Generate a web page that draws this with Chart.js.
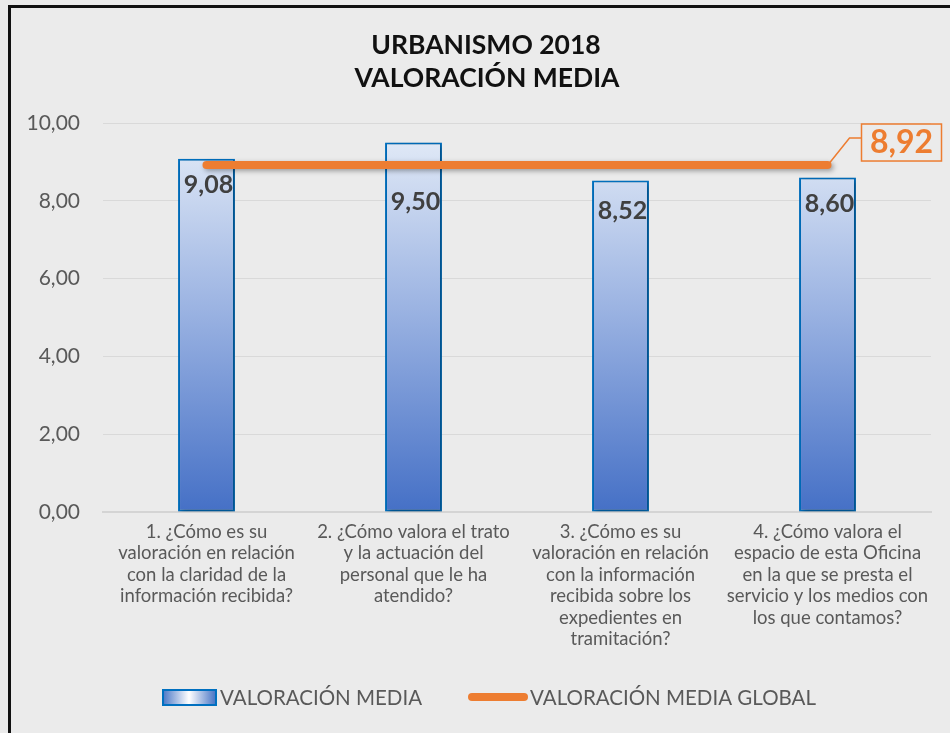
<!DOCTYPE html>
<html>
<head>
<meta charset="utf-8">
<script src="https://cdn.jsdelivr.net/npm/chart.js@4"></script>
<style>
  html, body { margin: 0; padding: 0; background: #ebebeb; }
  #wrap { position: relative; width: 950px; height: 733px; }
  #frame { position: absolute; left: 8px; top: 5px; right: -10px; bottom: -10px; border: 3px solid #111; pointer-events: none; }
</style>
</head>
<body>
<div id="wrap">
  <canvas id="chart" width="950" height="733"></canvas>
  <div id="frame"></div>
</div>
<script>
const categories = [
    ['1. ¿Cómo es su', 'valoración en relación', 'con la claridad de la', 'información recibida?'],
    ['2. ¿Cómo valora el trato', 'y la actuación del', 'personal que le ha', 'atendido?'],
    ['3. ¿Cómo es su', 'valoración en relación', 'con la información', 'recibida sobre los', 'expedientes en', 'tramitación?'],
    ['4. ¿Cómo valora el', 'espacio de esta Oficina', 'en la que se presta el', 'servicio y los medios con', 'los que contamos?']
];
const valoracionMedia = [9.08, 9.50, 8.52, 8.60];
const mediaGlobal = [8.92, 8.92, 8.92, 8.92];
const yTicks = [0, 2, 4, 6, 8, 10];

const titleLines = ['URBANISMO 2018', 'VALORACIÓN MEDIA'];
const seriesNames = ['VALORACIÓN MEDIA', 'VALORACIÓN MEDIA GLOBAL'];

// how far below the bar top each value label sits (Excel moved some to dodge the line)
const labelDrop = [26, 59, 30, 26];

const fmt = v => v.toFixed(2).replace('.', ',');

const ctx = document.getElementById('chart').getContext('2d');

function barGradient(context) {
    const area = context.chart.chartArea;
    if (!area) return '#4472c4';
    const g = context.chart.ctx.createLinearGradient(0, area.top + 20, 0, area.bottom);
    g.addColorStop(0, '#dfe8f6');
    g.addColorStop(0.45, '#9bb3e2');
    g.addColorStop(1, '#4570c6');
    return g;
}

// shadows on the bars and the line
const shadowPlugin = {
    id: 'shadow',
    beforeDatasetDraw(chart) {
        const c = chart.ctx;
        c.save();
        c.shadowColor = 'rgba(0,0,0,0.35)';
        c.shadowBlur = 5;
        c.shadowOffsetX = 2;
        c.shadowOffsetY = 2;
    },
    afterDatasetDraw(chart) {
        chart.ctx.restore();
    }
};

const decorPlugin = {
    id: 'decor',
    afterDraw(chart) {
        const c = chart.ctx;
        c.save();

        // title
        c.fillStyle = '#111';
        c.font = 'bold 26.5px Lato';
        c.textAlign = 'center';
        c.textBaseline = 'middle';
        c.fillText(titleLines[0], 486, 45);
        c.fillText(titleLines[1], 487, 78);

        // bar value labels
        const bars = chart.getDatasetMeta(0).data;
        c.fillStyle = '#404040';
        c.font = 'bold 25px Lato';
        bars.forEach((b, i) => {
            c.fillText(fmt(valoracionMedia[i]), b.x + 2, b.y + labelDrop[i]);
        });

        // global average label with leader line
        const pts = chart.getDatasetMeta(1).data;
        const last = pts[pts.length - 1];
        c.strokeStyle = '#ed7d31';
        c.lineWidth = 1.5;
        c.beginPath();
        c.moveTo(last.x + 2, last.y - 2);
        c.lineTo(last.x + 22, last.y - 27);
        c.lineTo(last.x + 34, last.y - 27);
        c.stroke();
        c.fillStyle = '#ebebeb';
        c.fillRect(last.x + 34, last.y - 41, 80, 37);
        c.strokeRect(last.x + 34, last.y - 41, 80, 37);
        c.fillStyle = '#ed7d31';
        c.font = 'bold 32px Lato';
        c.fillText(fmt(mediaGlobal[mediaGlobal.length - 1]), last.x + 74, last.y - 22);

        // legend
        const ly = 697;
        const lg = c.createLinearGradient(162, 0, 216, 0);
        lg.addColorStop(0, '#4472c4');
        lg.addColorStop(0.5, '#ffffff');
        lg.addColorStop(1, '#4472c4');
        c.fillStyle = lg;
        c.fillRect(163, ly - 7, 53, 15);
        c.strokeStyle = '#0070c0';
        c.lineWidth = 2;
        c.strokeRect(163, ly - 7, 53, 15);
        c.fillStyle = '#595959';
        c.font = '20.5px Lato';
        c.textAlign = 'left';
        c.fillText(seriesNames[0], 220, ly + 1);

        c.strokeStyle = '#ed7d31';
        c.lineWidth = 8;
        c.lineCap = 'round';
        c.beginPath();
        c.moveTo(472, ly);
        c.lineTo(524, ly);
        c.stroke();
        c.fillText(seriesNames[1], 530, ly + 1);

        c.restore();
    }
};

new Chart(ctx, {
    type: 'bar',
    data: {
        labels: categories,
        datasets: [
            {
                type: 'bar',
                label: seriesNames[0],
                data: valoracionMedia,
                backgroundColor: barGradient,
                borderColor: '#0070c0',
                borderWidth: 2,
                borderSkipped: false,
                barPercentage: 0.55,
                categoryPercentage: 0.5,
                order: 2
            },
            {
                type: 'line',
                label: seriesNames[1],
                data: mediaGlobal,
                borderColor: '#ed7d31',
                borderWidth: 8,
                borderCapStyle: 'round',
                pointRadius: 0,
                order: 1
            }
        ]
    },
    options: {
        responsive: false,
        animation: false,
        layout: { padding: { left: 10, top: 123, right: 19, bottom: 0 } },
        plugins: {
            legend: { display: false },
            title: { display: false },
            tooltip: { enabled: false }
        },
        scales: {
            x: {
                grid: { display: false, drawTicks: false },
                border: { color: '#d4d4d4', width: 2 },
                ticks: {
                    color: '#595959',
                    font: { family: 'Lato', size: 18.5, lineHeight: 1.16 },
                    padding: 9,
                    maxRotation: 0,
                    autoSkip: false
                },
                afterFit(scale) { scale.height = 221; }
            },
            y: {
                min: 0,
                max: 10,
                afterBuildTicks(scale) { scale.ticks = yTicks.map(v => ({ value: v })); },
                grid: { color: '#d9d9d9', lineWidth: 1, drawTicks: false },
                border: { display: false },
                ticks: {
                    color: '#595959',
                    font: { family: 'Lato', size: 21 },
                    padding: 23,
                    callback: v => fmt(v)
                },
                afterFit(scale) { scale.width = 93; }
            }
        }
    },
    plugins: [shadowPlugin, decorPlugin]
});
</script>
</body>
</html>
